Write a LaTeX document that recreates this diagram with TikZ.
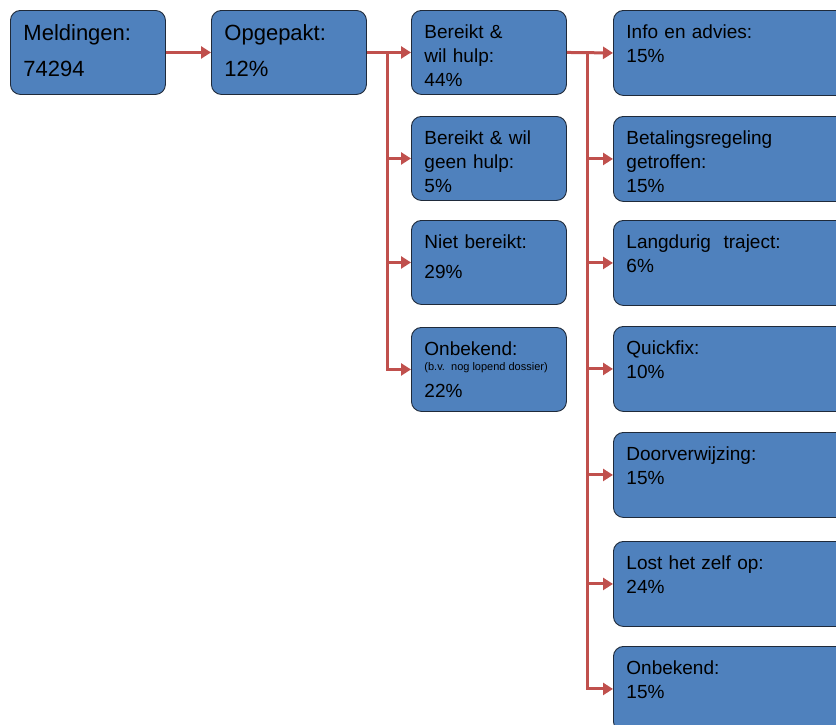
\documentclass[tikz,border=0pt]{standalone}
\usepackage{fontspec}
\setmainfont{Liberation Sans}
\usetikzlibrary{arrows.meta}
\definecolor{boxblue}{HTML}{4F81BD}
\definecolor{boxedge}{HTML}{1F2A3A}
\definecolor{arrowred}{HTML}{C0504D}
\tikzset{
  box/.style={draw=boxedge, line width=0.9pt, fill=boxblue, rounded corners=10pt,
    anchor=north west, align=left, inner xsep=13pt, inner ysep=0pt,
    text height=28pt, font=\fontsize{19}{24}\selectfont},
  bigbox/.style={box, text width=129pt, text height=30pt, text depth=54pt,
    font=\fontsize{22}{36}\selectfont},
  midbox/.style={box, text width=129pt, text depth=56pt},
  widebox/.style={box, text width=214pt, text depth=57pt},
  arr/.style={draw=arrowred, line width=3pt, -{Triangle[length=10pt,width=12pt]}}
}
\newcommand{\smallnote}[1]{\mbox{\fontsize{11}{12}\selectfont\spaceskip=0pt\xspaceskip=0pt #1}}
\begin{document}
\begin{tikzpicture}[x=1pt, y=-1pt]
      \useasboundingbox (0,0) rectangle (836,724);
      \path
        (10,10) node[bigbox] (meld){Meldingen:\\74294}
        (211,10) node[bigbox] (opg){Opgepakt:\\12\%}
        (411,10) node[midbox] (bw){Bereikt \&\\wil hulp:\\44\%}
        (411,116) node[midbox] (bg){Bereikt \& wil\\geen hulp:\\5\%}
        (411,220) node[midbox] (nb){Niet bereikt:\\[6pt]29\%}
        (411,327) node[midbox] (onb){Onbekend:\\[-9pt]\smallnote{(b.v.\ \ nog lopend dossier)}\\[3pt]22\%}
        (613,10) node[widebox] (info){Info en advies:\\15\%}
        (613,116) node[widebox] (bet){Betalingsregeling\\getroffen:\\15\%}
        (613,220) node[widebox] (lang){Langdurig\ \ traject:\\6\%}
        (613,326) node[widebox] (quick){Quickfix:\\10\%}
        (613,432) node[widebox] (door){Doorverwijzing:\\15\%}
        (613,541) node[widebox] (zelf){Lost het zelf op:\\24\%}
        (613,646) node[widebox] (onk){Onbekend:\\15\%};
      \path (opg.east) ++(21,0) coordinate (j1);
      \path (bw.east) ++(21,0) coordinate (j2);
      \begin{scope}[arr]
        \draw (meld.east) to (opg.west);
        \draw (opg.east) to (bw.west);
        \draw (j1) |- (bg.west);
        \draw (j1) |- (nb.west);
        \draw (j1) |- (onb.west);
        \draw (bw.east) to (info.west);
        \draw (j2) |- (bet.west);
        \draw (j2) |- (lang.west);
        \draw (j2) |- (quick.west);
        \draw (j2) |- (door.west);
        \draw (j2) |- (zelf.west);
        \draw (j2) |- (onk.west);
      \end{scope}
    \end{tikzpicture}
\end{document}
